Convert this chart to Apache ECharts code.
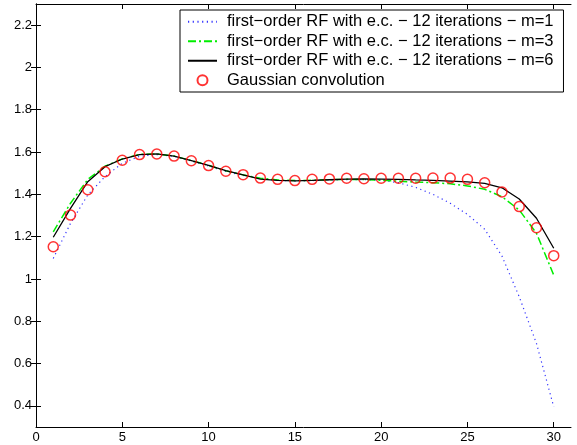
<!DOCTYPE html>
<html>
<head>
<meta charset="utf-8">
<script src="https://cdn.jsdelivr.net/npm/echarts@6/dist/echarts.min.js"></script>
<style>
  html, body { margin: 0; padding: 0; background: #fff; }
  #main { width: 577px; height: 445px; }
</style>
</head>
<body>
<div id="main"></div>
<script>
// iteration index 1..30
var xs = [1,2,3,4,5,6,7,8,9,10,11,12,13,14,15,16,17,18,19,20,21,22,23,24,25,26,27,28,29,30];

// first-order RF, m=1 (blue dotted)
var m1 = [1.097,1.263,1.397,1.484,1.547,1.580,1.588,1.580,1.558,1.534,1.508,1.490,1.474,1.466,1.463,1.465,1.468,1.470,1.470,1.466,1.455,1.433,1.400,1.358,1.305,1.235,1.108,0.916,0.695,0.395];
// first-order RF, m=3 (green dash-dot)
var m3 = [1.223,1.358,1.471,1.533,1.568,1.589,1.591,1.581,1.560,1.537,1.511,1.492,1.476,1.468,1.465,1.467,1.469,1.471,1.470,1.467,1.462,1.458,1.455,1.450,1.440,1.424,1.389,1.326,1.216,1.018];
// first-order RF, m=6 (black)
var m6 = [1.197,1.334,1.460,1.531,1.567,1.588,1.591,1.581,1.560,1.537,1.512,1.492,1.472,1.466,1.464,1.466,1.469,1.472,1.473,1.472,1.471,1.468,1.466,1.463,1.459,1.452,1.431,1.378,1.287,1.145];
// Gaussian convolution (red circles)
var gauss = [1.152,1.302,1.422,1.507,1.561,1.588,1.591,1.581,1.559,1.536,1.509,1.493,1.477,1.471,1.465,1.471,1.473,1.476,1.474,1.476,1.476,1.476,1.477,1.477,1.471,1.455,1.411,1.342,1.242,1.110];

var xTicks = [0,5,10,15,20,25,30];
var yTicks = [0.4,0.6,0.8,1,1.2,1.4,1.6,1.8,2,2.2];

var names = [
    'first\u2212order RF with e.c. \u2212 12 iterations \u2212 m=1',
    'first\u2212order RF with e.c. \u2212 12 iterations \u2212 m=3',
    'first\u2212order RF with e.c. \u2212 12 iterations \u2212 m=6',
    'Gaussian convolution'
];

function pairs(ys) {
    var out = [];
    for (var i = 0; i < xs.length; i++) out.push([xs[i], ys[i]]);
    return out;
}

var font = 'Liberation Sans, Arial, Helvetica, sans-serif';
var axisLine = { show: true, lineStyle: { color: '#000', width: 1 } };
var noMarker = { color: 'rgba(0,0,0,0)', borderWidth: 0, opacity: 0 };

var myChart = echarts.init(document.getElementById('main'));

var option = {
    animation: false,
    backgroundColor: '#fff',
    grid: { left: 36, right: 6, top: 4, bottom: 18, containLabel: false, outerBoundsMode: 'none' },
    legend: {
        orient: 'vertical',
        left: 180,
        top: 10,
        padding: [3, 10, 3, 7],
        itemGap: 2,
        itemWidth: 29,
        itemHeight: 10,
        borderColor: '#000',
        borderWidth: 1,
        backgroundColor: '#fff',
        textStyle: { fontFamily: font, fontSize: 16.5, lineHeight: 17.5, color: '#000', padding: [0, 0, 0, 5] },
        data: [
            { name: names[0], itemStyle: noMarker },
            { name: names[1], itemStyle: noMarker },
            { name: names[2], itemStyle: noMarker },
            { name: names[3] }
        ]
    },
    xAxis: [{
        type: 'value', min: 0, max: 31,
        axisLine: axisLine,
        axisTick: { show: true, inside: true, length: 5, customValues: xTicks, lineStyle: { color: '#000' } },
        axisLabel: { customValues: xTicks, fontFamily: font, fontSize: 13, color: '#000', margin: 4 },
        splitLine: { show: false }
    }, {
        type: 'value', min: 0, max: 31, position: 'top',
        axisLine: axisLine,
        axisTick: { show: true, inside: true, length: 5, customValues: xTicks, lineStyle: { color: '#000' } },
        axisLabel: { show: false },
        splitLine: { show: false }
    }],
    yAxis: [{
        type: 'value', min: 0.3, max: 2.3,
        axisLine: axisLine,
        axisTick: { show: true, inside: true, length: 5, customValues: yTicks, lineStyle: { color: '#000' } },
        axisLabel: { customValues: yTicks, fontFamily: font, fontSize: 13, color: '#000', margin: 4 },
        splitLine: { show: false }
    }, {
        type: 'value', min: 0.3, max: 2.3, position: 'right',
        axisLine: axisLine,
        axisTick: { show: true, inside: true, length: 5, customValues: yTicks, lineStyle: { color: '#000' } },
        axisLabel: { show: false },
        splitLine: { show: false }
    }],
    series: [{
        name: names[0], type: 'line', data: pairs(m1),
        showSymbol: false, symbol: 'none',
        lineStyle: { color: '#3333ff', width: 1.2, type: [1.2, 3.5] },
        itemStyle: { color: '#3333ff' }
    }, {
        name: names[1], type: 'line', data: pairs(m3),
        showSymbol: false, symbol: 'none',
        lineStyle: { color: '#00ee00', width: 1.5, type: [8, 3, 2, 3] },
        itemStyle: { color: '#00ee00' }
    }, {
        name: names[2], type: 'line', data: pairs(m6),
        showSymbol: false, symbol: 'none',
        lineStyle: { color: '#000', width: 1.3 },
        itemStyle: { color: '#000' }
    }, {
        name: names[3], type: 'scatter', data: pairs(gauss),
        symbol: 'circle', symbolSize: 10,
        itemStyle: { color: 'rgba(255,255,255,0)', borderColor: '#ff0000', borderWidth: 1.5 },
        z: 5
    }]
};

myChart.setOption(option);
window.onresize = function () {
    myChart.resize();
};
</script>
</body>
</html>
